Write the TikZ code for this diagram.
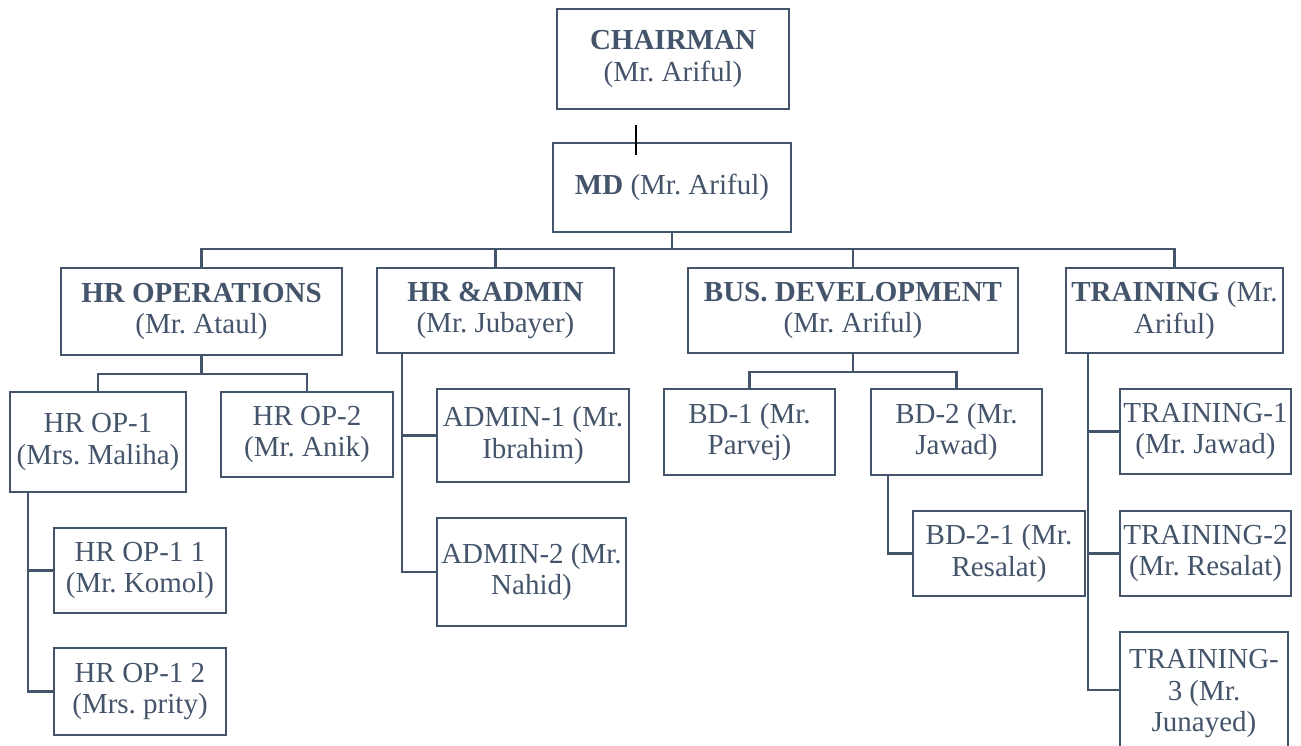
\documentclass[tikz,border=0pt]{standalone}
\usepackage{fontspec}
\setmainfont{Liberation Serif}
\definecolor{slate}{HTML}{44546A}
\frenchspacing
\begin{document}
\begin{tikzpicture}[x=1pt,y=-1pt,
  box/.style={draw=slate, line width=2.7pt, inner sep=0pt, outer sep=0pt, align=center, text=slate, font=\fontsize{29}{31.5}\selectfont},
  link/.style={draw=slate, line width=2.7pt}]
\useasboundingbox (0,0) rectangle (1301,746);
\clip (0,0) rectangle (1301,746);
% top
\node[box, minimum width=232pt, minimum height=100pt] (chair) at (673,59) {\textbf{CHAIRMAN}\\(Mr. Ariful)};
\node[box, minimum width=238pt, minimum height=89pt] (md) at (672,187.5) {\textbf{MD} (Mr. Ariful)};
% level 2
\node[box, minimum width=281pt, minimum height=87pt] (hrops) at (201.5,311.5) {\textbf{HR OPERATIONS}\\(Mr. Ataul)};
\node[box, minimum width=237pt, minimum height=85pt] (hradm) at (495.5,310.5) {\textbf{HR \&ADMIN}\\(Mr. Jubayer)};
\node[box, minimum width=330pt, minimum height=85pt] (busdev) at (853,310.5) {\textbf{BUS. DEVELOPMENT}\\(Mr. Ariful)};
\node[box, minimum width=217pt, minimum height=85pt] (train) at (1174.5,310.5) {\textbf{TRAINING} (Mr.\\Ariful)};
% HR ops children
\node[box, minimum width=176pt, minimum height=100pt] (op1) at (98,442) {HR OP-1\\(Mrs. Maliha)};
\node[box, minimum width=172pt, minimum height=85pt] (op2) at (307,434.5) {HR OP-2\\(Mr. Anik)};
\node[box, minimum width=172pt, minimum height=85pt] (op11) at (140,570.5) {HR OP-1 1\\(Mr. Komol)};
\node[box, minimum width=172pt, minimum height=87pt] (op12) at (140,691.5) {HR OP-1 2\\(Mrs. prity)};
% admin children
\node[box, minimum width=192pt, minimum height=93pt] (adm1) at (533,435.5) {ADMIN-1 (Mr.\\Ibrahim)};
\node[box, minimum width=189pt, minimum height=108pt] (adm2) at (531.5,572) {ADMIN-2 (Mr.\\Nahid)};
% BD children
\node[box, minimum width=171pt, minimum height=86pt] (bd1) at (749.5,432) {BD-1 (Mr.\\Parvej)};
\node[box, minimum width=171pt, minimum height=86pt] (bd2) at (956.5,432) {BD-2 (Mr.\\Jawad)};
\node[box, minimum width=172pt, minimum height=85pt] (bd21) at (999,553.5) {BD-2-1 (Mr.\\Resalat)};
% training children
\node[box, minimum width=171pt, minimum height=85pt] (t1) at (1205.5,431.5) {TRAINING-1\\(Mr. Jawad)};
\node[box, minimum width=171pt, minimum height=85pt] (t2) at (1205.5,553.5) {TRAINING-2\\(Mr. Resalat)};
\node[box, minimum width=168pt, minimum height=124pt, anchor=north] (t3) at (1204,632) {TRAINING-\\3 (Mr.\\Junayed)};
% chairman - md mark
\coordinate (cm1) at (636,125);
\coordinate (cm2) at (636,155);
\draw[black, line width=2.7pt] (cm1) -- (cm2);
% md to level 2
\draw[link] (md.south) -- ++(0,17) coordinate (busc);
\draw[link] (hrops.north) |- (busc) -| (train.north);
\draw[link] (hradm.north) -- (hradm.north |- busc);
\draw[link] (busdev.north) -- (busdev.north |- busc);
% hr ops
\draw[link] (hrops.south) -- ++(0,19) coordinate (h1);
\draw[link] (op1.north) |- (h1) -| (op2.north);
\draw[link] ([xshift=18pt]op1.south west) |- (op11.west);
\draw[link] ([xshift=18pt]op1.south west) |- (op12.west);
% hr admin
\draw[link] ([xshift=25pt]hradm.south west) |- (adm1.west);
\draw[link] ([xshift=25pt]hradm.south west) |- (adm2.west);
% bus dev
\draw[link] (busdev.south) -- ++(0,19) coordinate (b1);
\draw[link] (bd1.north) |- (b1) -| (bd2.north);
\draw[link] ([xshift=17pt]bd2.south west) |- (bd21.west);
% training
\draw[link] ([xshift=22pt]train.south west) |- (t1.west);
\draw[link] ([xshift=22pt]train.south west) |- (t2.west);
\draw[link] ([xshift=22pt]train.south west) |- ([yshift=4pt]t3.west);
\end{tikzpicture}
\end{document}
